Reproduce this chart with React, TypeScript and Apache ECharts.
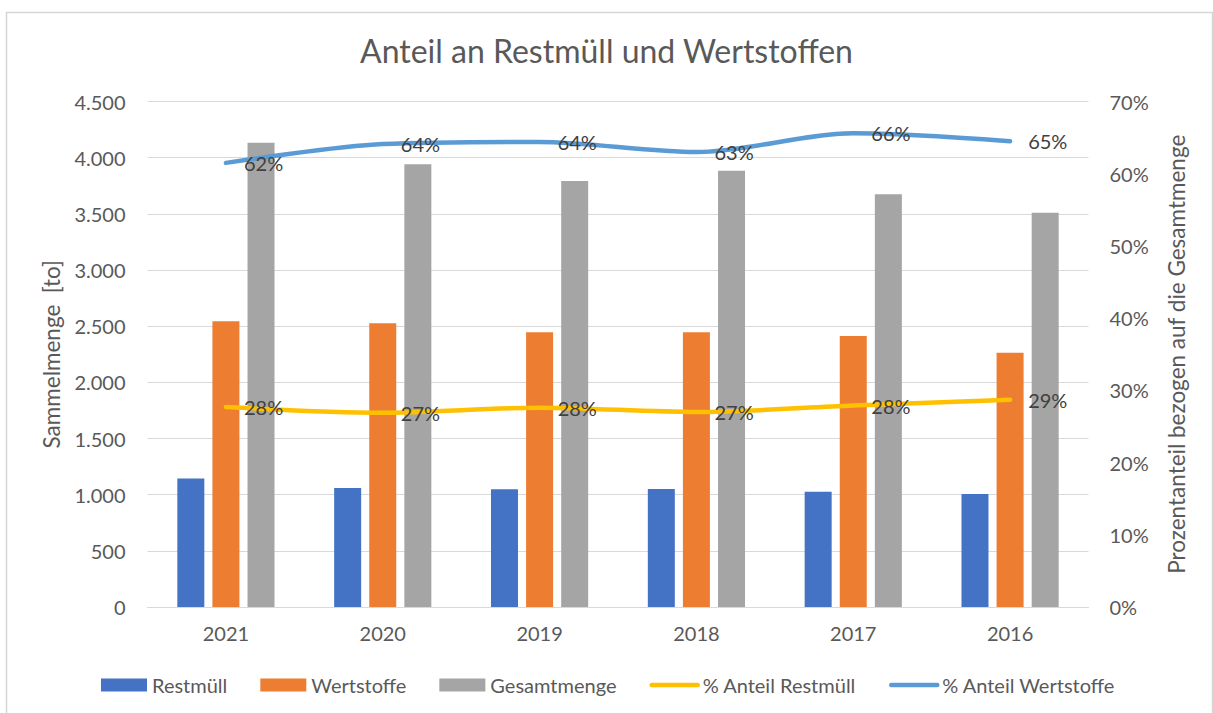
import React, { useEffect, useRef } from "react";
import * as echarts from "echarts";

const years = ["2021", "2020", "2019", "2018", "2017", "2016"];
const restmuell = [1145, 1060, 1048, 1050, 1025, 1005];
const wertstoffe = [2543, 2526, 2445, 2445, 2413, 2264];
const gesamtmenge = [4133, 3941, 3792, 3884, 3674, 3510];
const anteilRestmuell = [27.7, 26.9, 27.6, 27.0, 27.9, 28.7];
const anteilWertstoffe = [61.5, 64.1, 64.4, 63.0, 65.6, 64.5];

const FONT = "Lato, 'Open Sans', sans-serif";
const TXT = "#595959";

export default function App() {
  const ref = useRef<HTMLDivElement>(null);
  useEffect(() => {
    if (!ref.current) return;
    const chart = echarts.init(ref.current, undefined, { renderer: "svg" });
    const lineLabel = {
      show: true,
      position: "right",
      distance: 18,
      color: "#404040",
      fontSize: 20,
      fontFamily: FONT,
      formatter: (p: any) => Math.round(p.value) + "%",
    };
    chart.setOption({
      animation: false,
      backgroundColor: "#ffffff",
      textStyle: { fontFamily: FONT },
      title: {
        text: "Anteil an Restmüll und Wertstoffen",
        left: "center",
        top: 29,
        textStyle: { color: TXT, fontSize: 32, fontWeight: "normal", fontFamily: FONT },
      },
      graphic: [
        {
          type: "rect",
          shape: { x: 6.5, y: 12.5, width: 1206, height: 720 },
          style: { fill: "none", stroke: "#d6d6d6", lineWidth: 1.5 },
          silent: true,
        },
      ],
      grid: { left: 147.5, right: 124.5, top: 101.5, bottom: 106 },
      legend: {
        left: 96,
        top: 670,
        itemGap: 33,
        itemWidth: 46,
        itemHeight: 13,
        textStyle: { color: TXT, fontSize: 20, fontFamily: FONT },
        data: [
          { name: "Restmüll", icon: "rect" },
          { name: "Wertstoffe", icon: "rect" },
          { name: "Gesamtmenge", icon: "rect" },
          { name: "% Anteil Restmüll", lineStyle: { width: 4.5 }, itemStyle: { opacity: 0 } },
          { name: "% Anteil Wertstoffe", lineStyle: { width: 4.5 }, itemStyle: { opacity: 0 } },
        ],
      },
      xAxis: {
        type: "category",
        data: years,
        axisTick: { show: false },
        axisLine: { lineStyle: { color: "#d9d9d9", width: 1 } },
        axisLabel: { color: TXT, fontSize: 20, fontFamily: FONT, margin: 16 },
      },
      yAxis: [
        {
          type: "value",
          min: 0,
          max: 4500,
          interval: 500,
          name: "Sammelmenge  [to]",
          nameLocation: "middle",
          nameGap: 82,
          nameTextStyle: { color: TXT, fontSize: 22.5, fontFamily: FONT },
          axisLabel: {
            color: TXT,
            fontSize: 20,
            fontFamily: FONT,
            margin: 22,
            formatter: (v: number) => v.toLocaleString("de-DE"),
          },
          axisLine: { show: false },
          axisTick: { show: false },
          splitLine: { lineStyle: { color: "#d9d9d9", width: 1 } },
        },
        {
          type: "value",
          min: 0,
          max: 70,
          interval: 10,
          name: "Prozentanteil bezogen auf die Gesamtmenge",
          nameLocation: "middle",
          nameGap: 76,
          nameTextStyle: { color: TXT, fontSize: 22.5, fontFamily: FONT },
          axisLabel: {
            color: TXT,
            fontSize: 20,
            fontFamily: FONT,
            margin: 21,
            formatter: (v: number) => v + "%",
          },
          axisLine: { show: false },
          axisTick: { show: false },
          splitLine: { show: false },
        },
      ],
      series: [
        {
          name: "Restmüll",
          type: "bar",
          data: restmuell,
          barWidth: 27,
          barGap: "30%",
          itemStyle: { color: "#4472C4" },
        },
        {
          name: "Wertstoffe",
          type: "bar",
          data: wertstoffe,
          barWidth: 27,
          barGap: "30%",
          itemStyle: { color: "#ED7D31" },
        },
        {
          name: "Gesamtmenge",
          type: "bar",
          data: gesamtmenge,
          barWidth: 27,
          barGap: "30%",
          itemStyle: { color: "#A5A5A5" },
        },
        {
          name: "% Anteil Restmüll",
          type: "line",
          yAxisIndex: 1,
          data: anteilRestmuell,
          smooth: 0.3,
          symbol: "circle",
          symbolSize: 0.1,
          showSymbol: true,
          lineStyle: { color: "#FFC000", width: 4.5, cap: "round" },
          itemStyle: { color: "#FFC000" },
          label: lineLabel,
          z: 5,
        },
        {
          name: "% Anteil Wertstoffe",
          type: "line",
          yAxisIndex: 1,
          data: anteilWertstoffe,
          smooth: 0.3,
          symbol: "circle",
          symbolSize: 0.1,
          showSymbol: true,
          lineStyle: { color: "#5B9BD5", width: 4.5, cap: "round" },
          itemStyle: { color: "#5B9BD5" },
          label: lineLabel,
          z: 5,
        },
      ],
    });
    return () => chart.dispose();
  }, []);
  return (
    <div
      ref={ref}
      style={{ position: "fixed", left: 0, top: 0, width: 1213, height: 713 }}
    />
  );
}
